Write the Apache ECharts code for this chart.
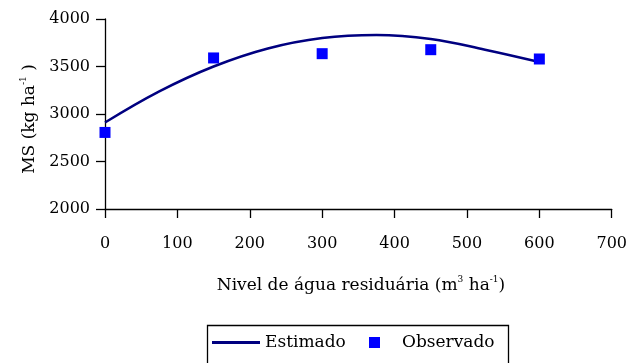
<!DOCTYPE html>
<html>
<head>
<meta charset="utf-8">
<script src="https://cdn.jsdelivr.net/npm/echarts@6/dist/echarts.min.js"></script>
<style>
  html, body { margin: 0; padding: 0; background: #fff; }
  #chart { width: 630px; height: 363px; }
</style>
</head>
<body>
<div id="chart"></div>
<script>
// Wastewater level (m3 ha-1) on the x axis
const levels = [0, 150, 300, 450, 600];
// Observed dry matter (kg ha-1)
const observed = [2806, 3590, 3635, 3677, 3579];
// Fitted regression curve, read at regular steps of the wastewater level
const curveLevels = [0, 75, 150, 225, 300, 375, 450, 525, 600];
const estimated = [2910, 3238, 3500, 3690, 3800, 3832, 3789, 3677, 3547];
// Axis ranges and steps
const xTicks = [0, 100, 200, 300, 400, 500, 600, 700];
const yTicks = [2000, 2500, 3000, 3500, 4000];

const FONT = 'DejaVu Serif';
const chart = echarts.init(document.getElementById('chart'), null, { renderer: 'canvas' });

const axisCommon = {
  axisLine: { show: true, lineStyle: { color: '#000', width: 1.3 } },
  axisTick: { show: true, inside: false, length: 9, lineStyle: { color: '#000', width: 1.3 } },
  splitLine: { show: false },
  axisLabel: { color: '#000', fontFamily: FONT, fontSize: 16, formatter: v => String(v) }
};

const titleRich = {
  t: { fontFamily: FONT, fontSize: 17, fill: '#000', color: '#000' },
  s: { fontFamily: FONT, fontSize: 9, fill: '#000', color: '#000', verticalAlign: 'top', padding: [0, 0, 12, 0] }
};

chart.setOption({
  animation: false,
  backgroundColor: '#fff',
  grid: { left: 105, right: 17, top: 19, bottom: 154 },
  xAxis: Object.assign({}, axisCommon, {
    type: 'value',
    min: xTicks[0],
    max: xTicks[xTicks.length - 1],
    interval: xTicks[1] - xTicks[0],
    axisLabel: Object.assign({}, axisCommon.axisLabel, { margin: 27 })
  }),
  yAxis: Object.assign({}, axisCommon, {
    type: 'value',
    min: yTicks[0],
    max: yTicks[yTicks.length - 1],
    interval: yTicks[1] - yTicks[0],
    axisLabel: Object.assign({}, axisCommon.axisLabel, { margin: 15 })
  }),
  legend: [
    {
      left: 212,
      top: 334,
      padding: 0,
      itemWidth: 48,
      itemHeight: 3,
      textStyle: { color: '#000', fontFamily: FONT, fontSize: 17 },
      data: [{ name: 'Estimado', icon: 'rect' }]
    },
    {
      left: 369,
      top: 334,
      padding: 0,
      itemWidth: 11,
      itemHeight: 11,
      textStyle: { color: '#000', fontFamily: FONT, fontSize: 17, padding: [0, 0, 0, 17] },
      data: [{ name: 'Observado', icon: 'rect' }]
    }
  ],
  graphic: [
    {
      // frame around the legend entries
      type: 'rect',
      shape: { x: 207.5, y: 325.5, width: 301, height: 60 },
      style: { fill: 'none', stroke: '#000', lineWidth: 1.3 },
      silent: true
    },
    {
      type: 'text',
      x: 30,
      y: 119,
      rotation: Math.PI / 2,
      style: {
        text: '{t|MS (kg ha}{s|-1}{t| )}',
        align: 'center',
        verticalAlign: 'middle',
        rich: titleRich
      }
    },
    {
      type: 'text',
      x: 361,
      y: 286,
      style: {
        text: '{t|Nivel de água residuária (m}{s|3}{t| ha}{s|-1}{t|)}',
        align: 'center',
        verticalAlign: 'middle',
        rich: titleRich
      }
    }
  ],
  series: [
    {
      name: 'Estimado',
      type: 'line',
      smooth: 0.4,
      symbol: 'none',
      color: '#000080',
      lineStyle: { color: '#000080', width: 2.5 },
      data: curveLevels.map((x, i) => [x, estimated[i]]),
      z: 2
    },
    {
      name: 'Observado',
      type: 'scatter',
      symbol: 'rect',
      symbolSize: 11,
      color: '#0000ff',
      itemStyle: { color: '#0000ff', opacity: 1 },
      emphasis: { disabled: true },
      data: levels.map((x, i) => [x, observed[i]]),
      z: 3
    }
  ]
});
</script>
</body>
</html>
